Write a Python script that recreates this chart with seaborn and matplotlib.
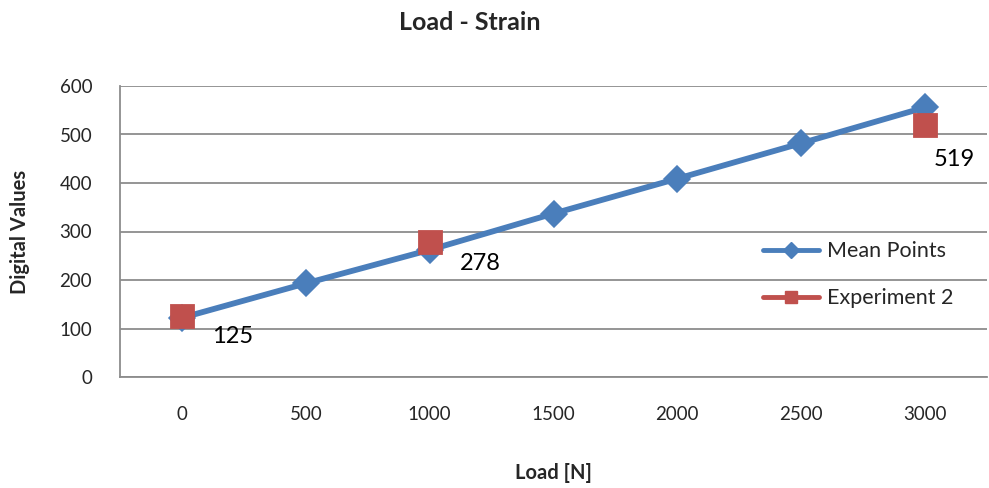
import matplotlib
matplotlib.use("Agg")
import matplotlib.pyplot as plt
import seaborn as sns
import pandas as pd
from matplotlib.lines import Line2D

loads = ["0", "500", "1000", "1500", "2000", "2500", "3000"]
mean_points = [122, 193, 262, 337, 409, 482, 556]
exp2_loads = ["0", "1000", "3000"]
exp2_values = [125, 278, 519]
y_ticks = [0, 100, 200, 300, 400, 500, 600]

sns.set_theme(style="white")
plt.rcParams['font.family'] = ['Lato', 'DejaVu Sans']

BLUE = "#4a7ebb"
RED = "#c0504d"
GRID = "#8c8c8c"

fig = plt.figure(figsize=(9.89, 4.88), dpi=100)
ax = fig.add_axes([120/989, (488-377)/488, (987-120)/989, (377-86)/488])

df_mean = pd.DataFrame({"Load": loads, "Value": mean_points})
df_exp = pd.DataFrame({"Load": exp2_loads, "Value": exp2_values})

sns.pointplot(data=df_mean, x="Load", y="Value", order=loads, color=BLUE,
              markers="D", linestyles="-", markersize=11, linewidth=4.2,
              ax=ax, zorder=3)
sns.pointplot(data=df_exp, x="Load", y="Value", order=loads, color=RED,
              markers="s", linestyles="none", markersize=16,
              ax=ax, zorder=4)

# data labels (offsets in points)
label_offsets = [(21.5, -14.5), (21.5, -15.0), (6.5, -24.5)]
for lab, val, off in zip(exp2_loads, exp2_values, label_offsets):
    xi = loads.index(lab)
    ax.annotate(str(val), (xi, val), xytext=off, textcoords="offset points",
                ha="left", va="center", fontsize=17, color="black",
                annotation_clip=False)

ax.set_xlim(-0.5, len(loads) - 0.5)
ax.set_ylim(0, 600)
ax.set_yticks(y_ticks)
ax.set_yticklabels([str(v) for v in y_ticks], fontsize=13.5)
ax.set_xticks(range(len(loads)))
ax.set_xticklabels(loads, fontsize=13.5)
ax.set_xticks([i - 0.5 for i in range(len(loads) + 1)], minor=True)
ax.tick_params(axis="x", which="major", length=0, pad=21)
ax.tick_params(axis="x", which="minor", length=6, width=1.2, color=GRID, direction="out")
ax.tick_params(axis="y", which="major", length=6, width=1.2, color=GRID, direction="out", pad=14)

ax.grid(axis="y", color=GRID, linewidth=1.3)
ax.set_axisbelow(True)
for s in ["top", "right"]:
    ax.spines[s].set_visible(False)
for s in ["left", "bottom"]:
    ax.spines[s].set_color(GRID)
    ax.spines[s].set_linewidth(1.3)

ax.set_xlabel("Load [N]", fontsize=14.5, fontweight="bold", labelpad=29)
ax.set_ylabel("Digital Values", fontsize=14.5, fontweight="bold", labelpad=21)
fig.text(470/989, 1 - 22/488, "Load - Strain", ha="center", va="center",
         fontsize=18, fontweight="bold")

handles = [Line2D([0], [0], color=BLUE, lw=3.5, marker="D", markersize=8),
           Line2D([0], [0], color=RED, lw=3.5, marker="s", markersize=9)]
fig.legend(handles, ["Mean Points", "Experiment 2"], loc="upper left",
           bbox_to_anchor=(744/989, 1 - 222/488), frameon=False, fontsize=15.5,
           handlelength=2.6, labelspacing=1.25, handletextpad=0.35)

fig.savefig("out.png", dpi=100)
